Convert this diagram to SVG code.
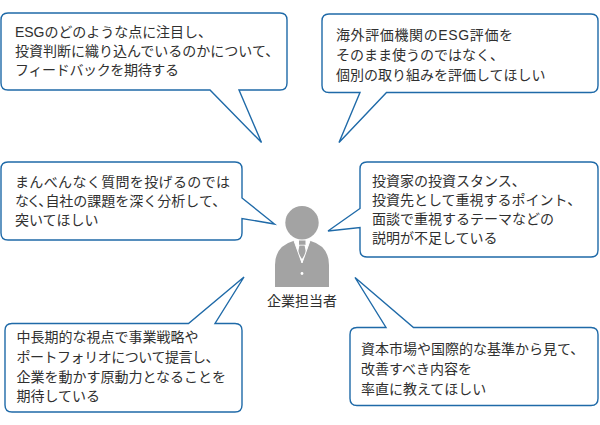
<svg xmlns="http://www.w3.org/2000/svg" width="600" height="425" viewBox="0 0 600 425">
<style>
.b{fill:#fff;stroke:#1f6aa8;stroke-width:1.4;stroke-linejoin:miter}
.t{font-family:"Liberation Sans","Noto Sans CJK JP",sans-serif;font-size:14px;fill:#303030}
.p{fill:#a3a3a3}
</style>
<rect width="600" height="425" fill="#fff"/>
<g id="bubble-1">
<path class="b" d="M8,13H280Q287,13 287,20V83Q287,90 280,90H239L261.500,142.500L210,90H8Q1,90 1,83V20Q1,13 8,13Z"/>
<text class="t" x="15" y="37" textLength="197">ESGのどのような点に注目し、</text>
<text class="t" x="15" y="56">投資判断に織り込んでいるのかについて、</text>
<text class="t" x="15" y="75" textLength="164">フィードバックを期待する</text>
</g>
<g id="bubble-2">
<path class="b" d="M329,14H591Q598,14 598,21V85.500Q598,92.500 591,92.500H386.500L339,142.500L360,92.500H329Q322,92.500 322,85.500V21Q322,14 329,14Z"/>
<text class="t" x="336" y="40" textLength="177">海外評価機関のESG評価を</text>
<text class="t" x="336" y="60">そのまま使うのではなく、</text>
<text class="t" x="336" y="80">個別の取り組みを評価してほしい</text>
</g>
<g id="bubble-3">
<path class="b" d="M8,162H235Q242,162 242,169V198L274.500,224L242,218.500V233Q242,240 235,240H8Q1,240 1,233V169Q1,162 8,162Z"/>
<text class="t" x="15" y="187" textLength="215">まんべんなく質問を投げるのでは</text>
<text class="t" x="15" y="206"><tspan style="font-feature-settings:'palt'">なく、</tspan>自社の課題を深く分析して、</text>
<text class="t" x="15" y="225">突いてほしい</text>
</g>
<g id="bubble-4">
<path class="b" d="M367,162H591Q598,162 598,169V250Q598,257 591,257H367Q360,257 360,250V227.500L328,231L360,208.500V169Q360,162 367,162Z"/>
<text class="t" x="372" y="186">投資家の投資スタンス、</text>
<text class="t" x="372" y="205">投資先として重視するポイント、</text>
<text class="t" x="372" y="224">面談で重視するテーマなどの</text>
<text class="t" x="372" y="243">説明が不足している</text>
</g>
<g id="bubble-5">
<path class="b" d="M12,323.500H188.500L244,277L215,323.500H235Q242,323.500 242,330.500V405Q242,412 235,412H12Q5,412 5,405V330.500Q5,323.500 12,323.500Z"/>
<text class="t" x="16.500" y="342">中長期的な視点で事業戦略や</text>
<text class="t" x="16.500" y="362" textLength="203">ポートフォリオについて提言し、</text>
<text class="t" x="16.500" y="382">企業を動かす原動力となることを</text>
<text class="t" x="16.500" y="400.500">期待している</text>
</g>
<g id="bubble-6">
<path class="b" d="M357,327.500H386L355,277.500L413.500,327.500H591Q598,327.500 598,334.500V398.500Q598,405.500 591,405.500H357Q350,405.500 350,398.500V334.500Q350,327.500 357,327.500Z"/>
<text class="t" x="361" y="354">資本市場や国際的な基準から見て、</text>
<text class="t" x="361" y="374">改善すべき内容を</text>
<text class="t" x="361" y="394">率直に教えてほしい</text>
</g>
<g id="person">
<circle class="p" cx="302" cy="222.700" r="16.700"/>
<path class="p" d="M275,287V265Q275,246 294,240.700L302,263L310,240.700Q329,246 329,265V287Z"/>
<path class="p" d="M299,240.500H305.500V245L304.500,245L306,253L302,259L298,253L299.500,245L299,245Z"/>
<path d="M294,240.700L302,263L310,240.700" fill="none" stroke="#fff" stroke-width="1"/>
<path d="M298.700,245.200H305.300" fill="none" stroke="#fff" stroke-width="0.800"/>
<circle cx="302" cy="273.500" r="1.400" fill="#fff"/>
<text class="t" x="302" y="305.500" text-anchor="middle">企業担当者</text>
</g>
</svg>
